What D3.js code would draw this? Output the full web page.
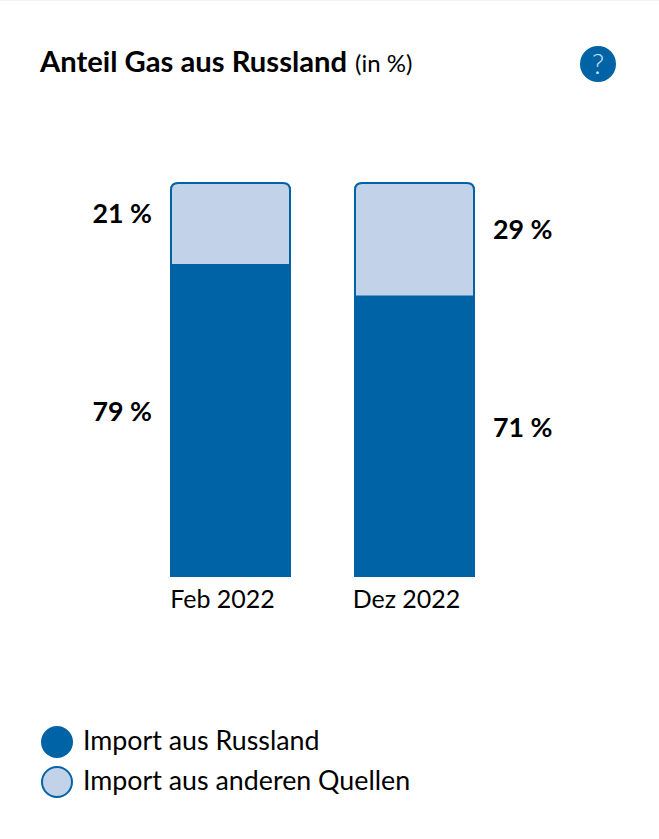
<!DOCTYPE html>
<html><head><meta charset="utf-8">
<script src="https://cdn.jsdelivr.net/npm/d3@7"></script>
<style>html,body{margin:0;padding:0;background:#fff}svg{display:block}text{font-family:"Lato","Noto Sans",sans-serif;fill:#000}</style>
</head><body><svg id="c" width="659" height="839"></svg>
<script>
const categories = ["Feb 2022","Dez 2022"];
const russia = [79,71];
const other = [21,29];
const seriesNames = ["Import aus Russland","Import aus anderen Quellen"];
const dark="#0063a5", light="#c2d2e8";
const svg=d3.select("#c");
svg.append("rect").attr("width",659).attr("height",1).attr("fill","#f2f2f2");
const x=d3.scaleBand().domain(categories).range([170,475]).paddingInner(63/184).paddingOuter(0);
const y=d3.scaleLinear().domain([0,100]).range([577,182]);
const t=svg.append("text").attr("x",40).attr("y",72);
t.append("tspan").attr("font-size",29.2).attr("font-weight",700).text("Anteil Gas aus Russland");
t.append("tspan").attr("font-size",24).attr("dx",8).text("(in %)");
svg.append("circle").attr("cx",598).attr("cy",64).attr("r",18).attr("fill",dark);
svg.append("text").attr("x",598).attr("y",74).attr("text-anchor","middle").attr("font-size",28).attr("font-weight",300).style("fill","#d5e3f0").text("?");
const bw=x.bandwidth();
function topRounded(x0,y0,w,y1,r){return `M${x0},${y1}V${y0+r}Q${x0},${y0} ${x0+r},${y0}H${x0+w-r}Q${x0+w},${y0} ${x0+w},${y0+r}V${y1}Z`;}
categories.forEach((c,i)=>{
  const x0=x(c);
  svg.append("path").attr("d",topRounded(x0+1,y(100)+1,bw-2,y(russia[i]),7)).attr("fill",light).attr("stroke",dark).attr("stroke-width",2);
  svg.append("rect").attr("x",x0).attr("width",bw).attr("y",y(russia[i])).attr("height",y(0)-y(russia[i])).attr("fill",dark);
  const left=i===0;
  const lx=left?x0-18:x0+bw+18;
  const anc=left?"end":"start";
  svg.append("text").attr("x",lx).attr("y",y(russia[i]+other[i]/2)).attr("text-anchor",anc).attr("font-size",26.8).attr("font-weight",700).text(other[i]+" %");
  svg.append("text").attr("x",lx).attr("y",y(russia[i]/2)).attr("text-anchor",anc).attr("font-size",26.8).attr("font-weight",700).text(russia[i]+" %");
  svg.append("text").attr("x",x0+bw/2-8).attr("y",608).attr("text-anchor","middle").attr("font-size",25).text(c);
});
seriesNames.forEach((n,i)=>{
  const cy=742+i*40;
  svg.append("circle").attr("cx",57).attr("cy",cy).attr("r",i?15:16).attr("fill",i?light:dark).attr("stroke",i?dark:"none").attr("stroke-width",2);
  svg.append("text").attr("x",83).attr("y",cy+8).attr("font-size",26.8).text(n);
});
</script></body></html>
